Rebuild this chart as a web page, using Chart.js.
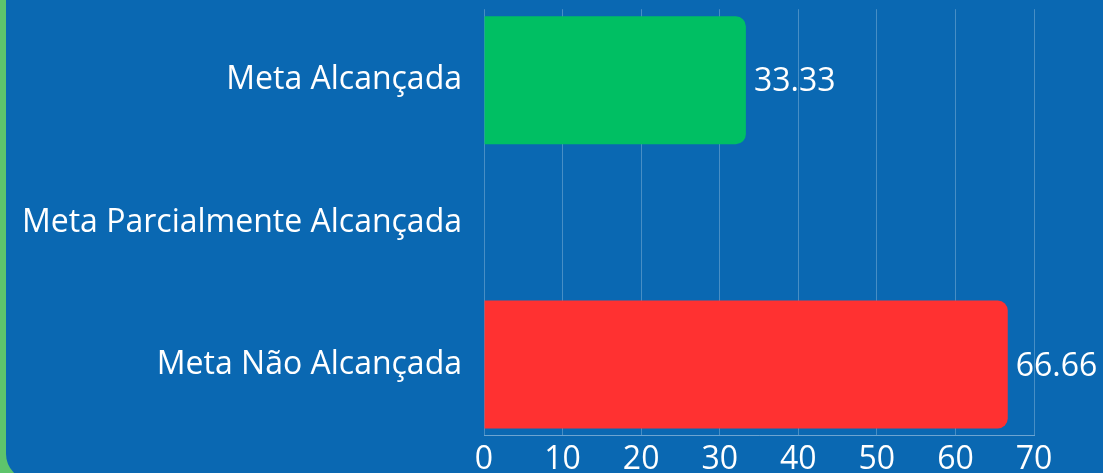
<!DOCTYPE html>
<html>
<head>
<meta charset="utf-8">
<script src="https://cdn.jsdelivr.net/npm/chart.js@4/dist/chart.umd.min.js"></script>
<style>
    html, body { margin: 0; padding: 0; }
    body { width: 1103px; height: 473px; overflow: hidden; background: #5ec46c; position: relative; }
    .card { position: absolute; left: 6px; top: -40px; width: 1140px; height: 520px; background: #0a68b2; border-radius: 26px; }
    .chart-box { position: absolute; left: 0; top: -32px; width: 1103px; height: 516px; }
</style>
</head>
<body>
<div class="card"></div>
<div class="chart-box"><canvas id="metaChart"></canvas></div>
<script>
    // Chart data
    const categories = ['Meta Alcançada', 'Meta Parcialmente Alcançada', 'Meta Não Alcançada'];
    const percentValues = [33.33, 0, 66.66];
    const barColors = ['#00bf63', '#f5a623', '#ff3131'];
    const xTicks = [0, 10, 20, 30, 40, 50, 60, 70];

    Chart.defaults.font.family = "'Open Sans', 'Noto Sans', sans-serif";
    Chart.defaults.color = '#ffffff';

    // Draw the value next to each bar (skip zero values)
    const valueLabels = {
        id: 'valueLabels',
        afterDatasetsDraw(chart) {
            const ctx = chart.ctx;
            const meta = chart.getDatasetMeta(0);
            ctx.save();
            ctx.font = "32px 'Open Sans', sans-serif";
            ctx.fillStyle = '#ffffff';
            ctx.textAlign = 'left';
            ctx.textBaseline = 'middle';
            meta.data.forEach(function(bar, i) {
                const v = percentValues[i];
                if (!v) return;
                ctx.fillText(v.toFixed(2), bar.x + 8, bar.y + 2);
            });
            ctx.restore();
        }
    };

    const ctx = document.getElementById('metaChart').getContext('2d');
    new Chart(ctx, {
        type: 'bar',
        data: {
            labels: categories,
            datasets: [{
                data: percentValues,
                backgroundColor: barColors,
                borderRadius: 10,
                borderSkipped: 'start',
                barPercentage: 0.9,
                categoryPercentage: 1
            }]
        },
        options: {
            indexAxis: 'y',
            responsive: true,
            maintainAspectRatio: false,
            animation: false,
            layout: { padding: { top: 8, right: 69, left: 6, bottom: 0 } },
            plugins: {
                legend: { display: false },
                tooltip: { enabled: false }
            },
            scales: {
                x: {
                    min: 0,
                    max: 70,
                    afterBuildTicks: function(scale) {
                        scale.ticks = xTicks.map(v => ({ value: v }));
                    },
                    grid: { color: 'rgba(255,255,255,0.25)', drawTicks: false },
                    border: { color: 'rgba(255,255,255,0.4)' },
                    ticks: { font: { size: 32 }, padding: 5, color: '#ffffff' }
                },
                y: {
                    grid: { display: false, drawTicks: false },
                    border: { display: false },
                    ticks: { font: { size: 32 }, padding: 22, color: '#ffffff' },
                    afterFit: function(scale) { scale.width = 478; }
                }
            }
        },
        plugins: [valueLabels]
    });
</script>
</body>
</html>
